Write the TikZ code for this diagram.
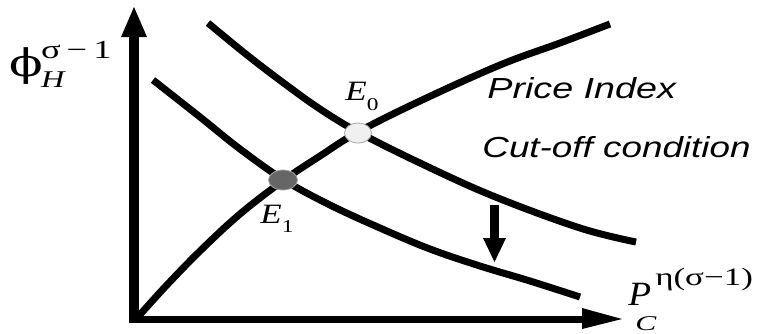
\documentclass[tikz,border=0pt]{standalone}
\usepackage{fontspec}
\setmainfont{Liberation Serif}
\setsansfont{Liberation Sans}
\newfontfamily\phifont{DejaVu Serif}
\begin{document}
\begin{tikzpicture}[x=0.5pt,y=-0.5pt,
  curve/.style={line width=3.5pt},
  lbl/.style={inner sep=0pt, anchor=base west},
  eq/.style={draw=gray!70, line width=0.4pt}]
\useasboundingbox[fill=white] (0,0) rectangle (759,333);
% axes
\coordinate (O) at (134,320);
\coordinate (ytip) at (134,7);
\coordinate (xtip) at (622,319);
\fill (129,323) rectangle (139,36);
\fill (121,37) -- (147,37) -- (ytip) -- cycle;
\fill (129,316) rectangle (583,323);
\fill (582,308) -- (582,329) -- (xtip) -- cycle;
% price index curve
\draw[curve] plot[smooth, tension=0.6] coordinates {(137,318) (165,287) (200,251) (240,214) (284,180) (320,156) (358,132) (420,101) (500,65) (560,43) (610,24)};
% upper cut-off curve
\draw[curve] plot[smooth, tension=0.6] coordinates {(208,23) (247,55) (285,84) (320,109) (358,132) (420,163) (493,196) (580,228) (636,242)};
% lower cut-off curve
\draw[curve] plot[smooth, tension=0.6] coordinates {(153,80) (200,117) (240,149) (284,180) (330,205) (380,228) (430,249) (480,266) (530,281) (580,297)};
% shift arrow
\fill (490,205) rectangle (499,239);
\fill (483,238) -- (506,238) -- (494.5,262) -- cycle;
% equilibria
\filldraw[eq, fill=gray!12] (358,133) ellipse [x radius=6.75pt, y radius=5pt];
\filldraw[eq, fill=black!60] (283,180) ellipse [x radius=7.25pt, y radius=5pt];
\node (E0) at (345,100) [lbl] {\scalebox{1.25}[1]{\fontsize{14}{14}\selectfont\itshape E}\raisebox{-5pt}{\scalebox{1.3}[1]{\fontsize{9}{9}\selectfont 0}}};
\node (E1) at (260,223) [lbl] {\scalebox{1.25}[1]{\fontsize{14}{14}\selectfont\itshape E}\raisebox{-4.5pt}{\scalebox{1.3}[1]{\fontsize{9}{9}\selectfont 1}}};
% curve labels
\node (pi) at (487,98) [lbl] {\scalebox{1.3}[1]{\fontsize{14.5}{14.5}\selectfont\sffamily\itshape Price Index}};
\node (co) at (482,157) [lbl] {\scalebox{1.27}[1]{\fontsize{14.5}{14.5}\selectfont\sffamily\itshape Cut-off condition}};
% axis labels
\node (ylab) at (9,76) [lbl] {\scalebox{1.3}[1]{\fontsize{19}{19}\selectfont\phifont ϕ}\hspace{-1pt}\rlap{\raisebox{9pt}{\scalebox{1.4}[1]{\fontsize{13}{13}\selectfont σ\,−\,1}}}\raisebox{-5.5pt}{\scalebox{1.35}[1]{\fontsize{12}{12}\selectfont\itshape H}}};
\node (xlab) at (628,305) [lbl] {\scalebox{1.1}[1]{\fontsize{17}{17}\selectfont\itshape P}\hspace{2pt}\rlap{\raisebox{10pt}{\scalebox{1.4}[1]{\fontsize{12.5}{12.5}\selectfont η(σ−1)}}}\hspace{-10pt}\raisebox{-12.5pt}{\scalebox{1.5}[1]{\fontsize{10.5}{10.5}\selectfont\itshape C}}};
\end{tikzpicture}
\end{document}
